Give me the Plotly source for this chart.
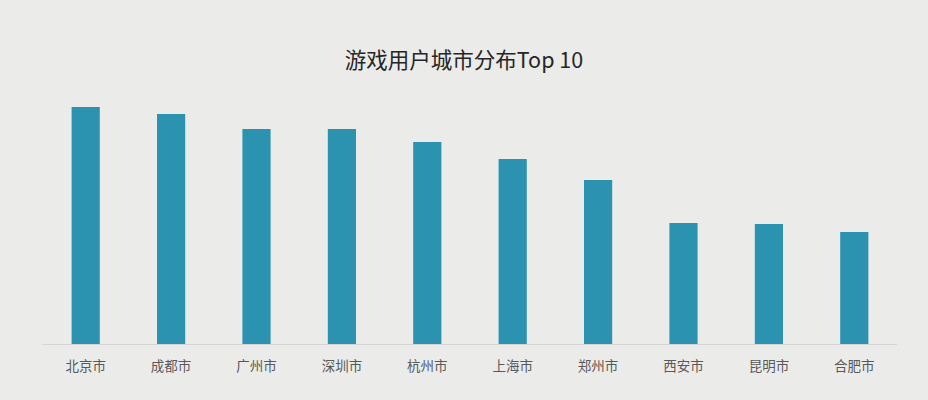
import plotly.graph_objects as go

# 城市与用户数（相对值，按图中柱高估读）
cities = ['北京市', '成都市', '广州市', '深圳市', '杭州市',
          '上海市', '郑州市', '西安市', '昆明市', '合肥市']
users = [237, 230, 215, 215, 202, 185, 164, 121, 120, 112]

BAR_COLOR = '#2B92AF'
BG = '#EBEBEA'
FONT = 'Noto Sans CJK SC'

fig = go.Figure(go.Bar(x=cities, y=users, marker=dict(color=BAR_COLOR, line=dict(width=0)),
                       hoverinfo='skip'))

fig.update_layout(
    width=928, height=400,
    paper_bgcolor=BG, plot_bgcolor=BG,
    margin=dict(l=43, r=31, t=90, b=56),
    bargap=0.67,
    showlegend=False,
    hovermode=False,
    font=dict(family=FONT, color='#595959'),
    title=dict(text='游戏用户城市分布Top 10', x=0.5, xanchor='center',
               y=0.848, yanchor='middle', yref='container',
               font=dict(family=FONT, size=21.5, color='#262626')),
)
fig.update_xaxes(showline=True, linecolor='#D6D6D6', linewidth=1,
                 ticks='outside', ticklen=10, tickcolor='rgba(0,0,0,0)',
                 tickfont=dict(size=13.5, color='#595959'), showgrid=False)
fig.update_yaxes(visible=False, range=[0, 254])

# 去掉页面默认边距，让图正好铺满窗口
fig.write_html('out.html', config={'displayModeBar': False, 'staticPlot': True},
               post_script="document.body.style.margin='0';document.body.style.overflow='hidden';")
